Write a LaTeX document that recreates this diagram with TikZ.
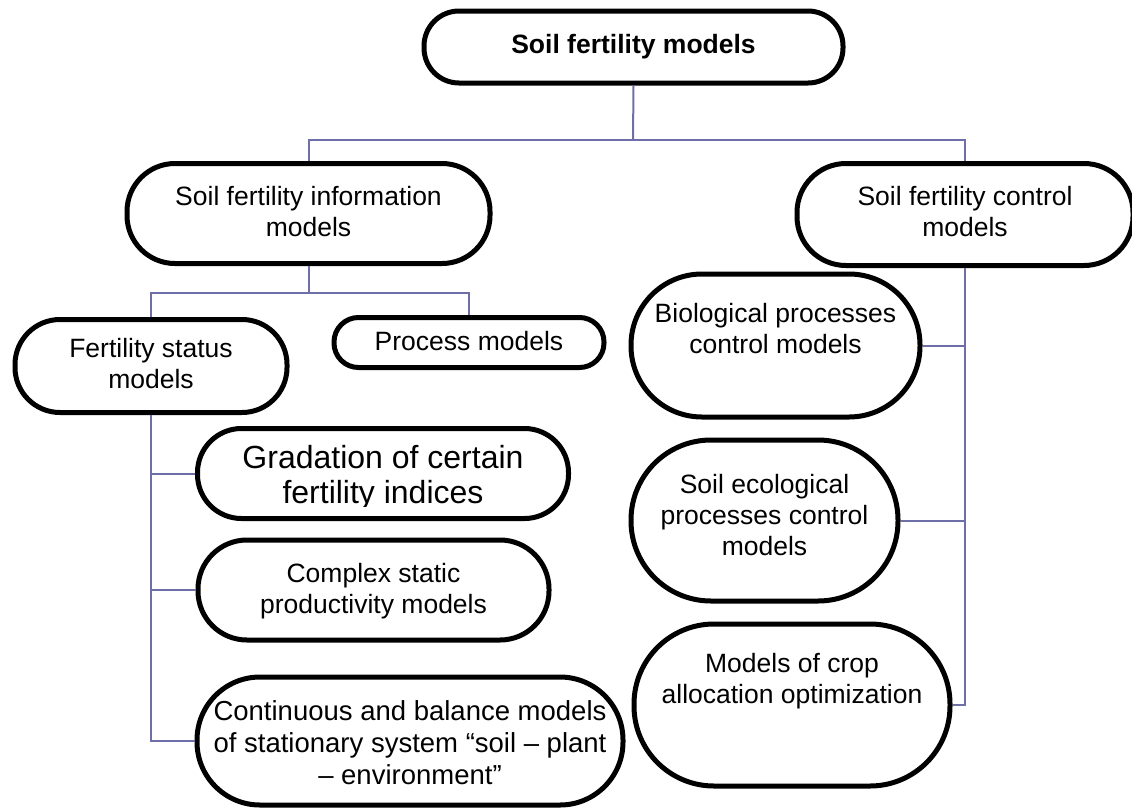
\documentclass[tikz,border=0pt]{standalone}
\usepackage{fontspec}
\setmainfont{Liberation Sans}
\definecolor{linec}{RGB}{110,110,168}
\newcommand\myfs{\fontsize{26.5}{31}\selectfont}
\newcommand\mybigfs{\fontsize{32}{35}\selectfont}
\begin{document}
\begin{tikzpicture}[x=1pt,y=-1pt,
  box/.style={draw=black, line width=5pt, fill=white, rectangle, inner sep=0pt},
  txt/.style={align=center, inner sep=0pt, font=\myfs},
  link/.style={draw=linec, line width=2pt}]
\useasboundingbox (0,0) rectangle (1132,809);
% connectors
\coordinate (tj) at (633,140);
\coordinate (ij) at (308.5,293);
% boxes
\node[box, minimum width=419pt, minimum height=72pt, rounded corners=35pt] (top) at (633.5,47) {};
\node[box, minimum width=363pt, minimum height=100pt, rounded corners=48pt] (info) at (308.5,213.5) {};
\node[box, minimum width=336pt, minimum height=102pt, rounded corners=49pt] (control) at (965,214.5) {};
\node[box, minimum width=272pt, minimum height=93pt, rounded corners=45pt] (fert) at (151,366) {};
\node[box, minimum width=270pt, minimum height=50pt, rounded corners=24.5pt] (proc) at (469,342.5) {};
\node[box, minimum width=371pt, minimum height=90pt, rounded corners=44pt] (grad) at (383,473.5) {};
\node[box, minimum width=351pt, minimum height=100pt, rounded corners=49pt] (comp) at (373.5,590) {};
\node[box, minimum width=426pt, minimum height=128pt, rounded corners=63pt] (cont) at (410,741) {};
\node[box, minimum width=289pt, minimum height=143pt, rounded corners=71pt] (bio) at (775.5,345.5) {};
\node[box, minimum width=267pt, minimum height=161pt, rounded corners=80pt] (eco) at (764.5,520.5) {};
\node[box, minimum width=316pt, minimum height=162pt, rounded corners=80pt] (crop) at (792,705) {};
% links
\draw[link] (top.south) -- (tj);
\draw[link] (info.north) |- (tj) -| (control.north);
\draw[link] (info.south) -- (ij);
\draw[link] (fert.north) |- (ij) -| (proc.north);
\draw[link] (fert.south) -- (fert.south |- cont.west) -- (cont.west);
\draw[link] (fert.south |- grad.west) -- (grad.west);
\draw[link] (fert.south |- comp.west) -- (comp.west);
\draw[link] (control.south) -- (control.south |- crop.east) -- (crop.east);
\draw[link] (control.south |- bio.east) -- (bio.east);
\draw[link] (control.south |- eco.east) -- (eco.east);
% texts
\node[txt, font=\myfs\bfseries] (top-t) at (633.5,47) {Soil fertility models};
\node[txt] (info-t) at (308.5,212) {Soil fertility information\\models};
\node[txt] (control-t) at (965,212) {Soil fertility control\\models};
\node[txt] (fert-t) at (151,364) {Fertility status\\models};
\node[txt] (proc-t) at (469,341) {Process models};
\begin{scope}
\clip (190,430) rectangle (580,506);
\node[txt, font=\mybigfs] (grad-t) at (383,478) {Gradation of certain\\fertility indices};
\end{scope}
\node[txt] (comp-t) at (373.5,591) {Complex static\\productivity models};
\node[txt, font=\fontsize{27.5}{32}\selectfont] (cont-t) at (410,743) {Continuous and balance models\\of stationary system “soil -- plant\\-- environment”};
\node[txt] (bio-t) at (775.5,329) {Biological processes\\control models};
\node[txt] (eco-t) at (764.5,515) {Soil ecological\\processes control\\models};
\node[txt] (crop-t) at (792,681) {Models of crop\\allocation optimization};
\end{tikzpicture}
\end{document}
